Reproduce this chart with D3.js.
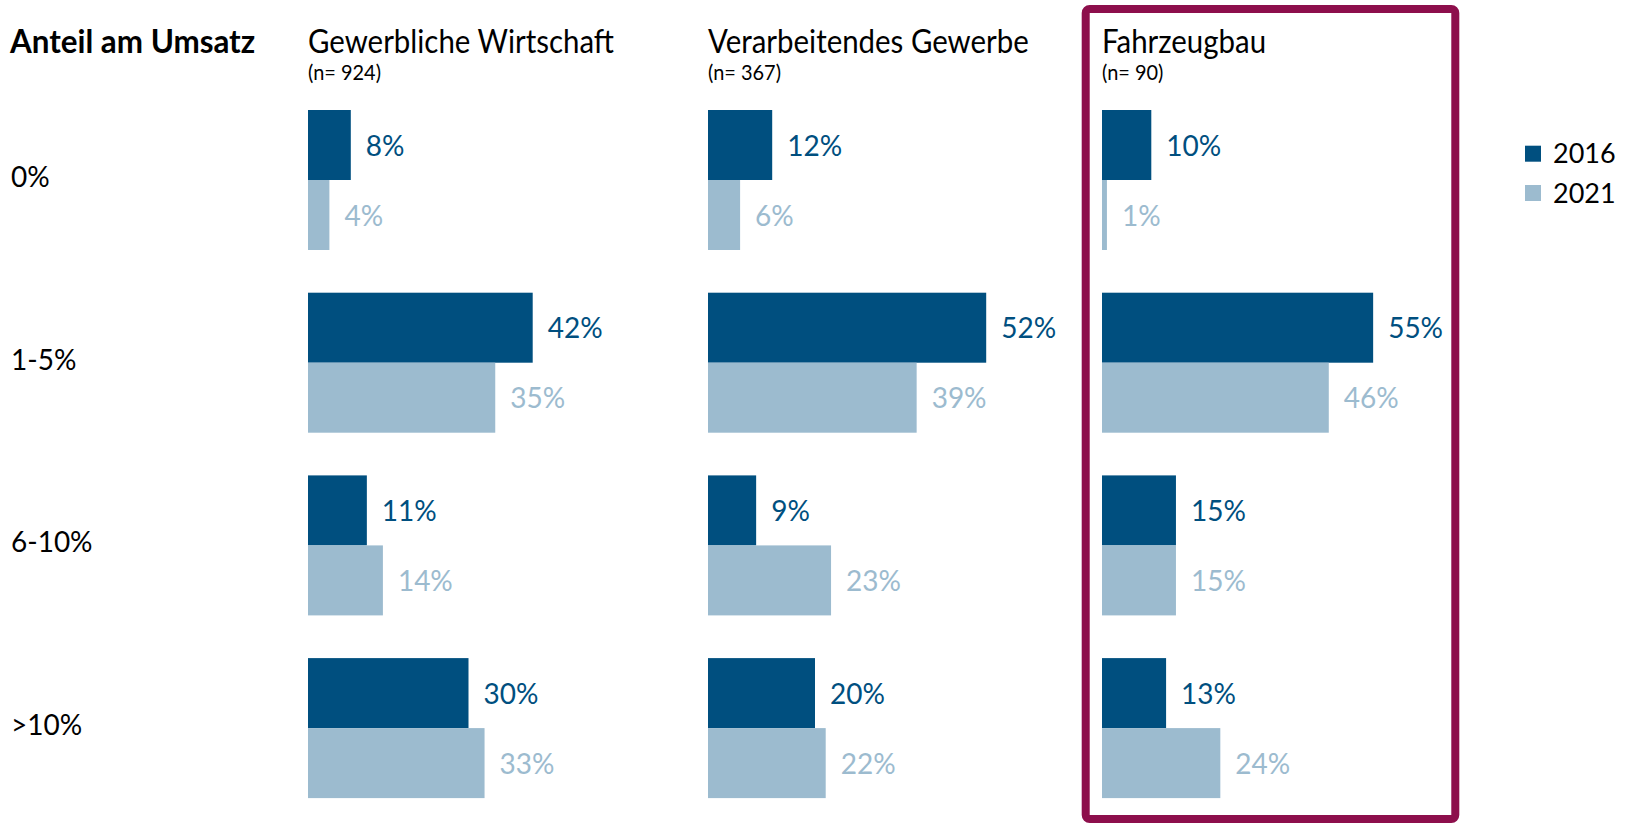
<!DOCTYPE html>
<html>
<head>
<meta charset="utf-8">
<script src="https://cdn.jsdelivr.net/npm/d3@7"></script>
<style>
  html, body { margin: 0; padding: 0; background: #fff; }
  svg { display: block; font-family: Lato, "Open Sans", sans-serif; }
</style>
</head>
<body>
<svg id="chart" width="1627" height="825"></svg>
<script>
// ---- data ----
const categories = ["0%", "1-5%", "6-10%", ">10%"];
const years = ["2016", "2021"];
const panels = ["Gewerbliche Wirtschaft", "Verarbeitendes Gewerbe", "Fahrzeugbau"];
const sampleSizes = ["(n= 924)", "(n= 367)", "(n= 90)"];
const values2016 = [
  [8, 42, 11, 30],
  [12, 52, 9, 20],
  [10, 55, 15, 13]
];
const values2021 = [
  [4, 35, 14, 33],
  [6, 39, 23, 22],
  [1, 46, 15, 24]
];
const rowTitle = "Anteil am Umsatz";

// ---- layout / style ----
const W = 1627, H = 825;
const colors = { "2016": "#004f7f", "2021": "#9cbbcf" };
const panelX = [308, 708, 1102];
const panelPxPer100 = [535, 535, 493];

const svg = d3.select("#chart");

const y = d3.scaleBand()
  .domain(categories)
  .range([110, 110 + 3 * 182.7 + 140])
  .paddingInner(42.7 / 182.7)
  .paddingOuter(0);

const ySub = d3.scaleBand().domain(years).range([0, y.bandwidth()]).padding(0);

// highlight box
svg.append("rect")
  .attr("x", 1085.7).attr("y", 9)
  .attr("width", 369.6).attr("height", 810)
  .attr("rx", 4).attr("ry", 4)
  .attr("fill", "none")
  .attr("stroke", "#8d0f4c")
  .attr("stroke-width", 8);

// row title
svg.append("text")
  .attr("transform", "translate(10,53) scale(0.98,1)")
  .attr("font-size", 32).attr("font-weight", 700)
  .attr("fill", "#000")
  .text(rowTitle);

// category labels
svg.append("g").selectAll("text")
  .data(categories)
  .join("text")
  .attr("x", 11)
  .attr("y", d => y(d) + 77)
  .attr("font-size", 28)
  .attr("fill", "#000")
  .text(d => d);

// panels
panels.forEach((name, p) => {
  const x = d3.scaleLinear().domain([0, 100]).range([0, panelPxPer100[p]]);
  const g = svg.append("g").attr("transform", `translate(${panelX[p]},0)`);

  g.append("text")
    .attr("transform", "translate(0,53) scale(0.92,1)")
    .attr("font-size", 32).attr("fill", "#000")
    .text(name);
  g.append("text")
    .attr("transform", "translate(0,80) scale(0.95,1)")
    .attr("font-size", 21).attr("fill", "#000")
    .text(sampleSizes[p]);

  const rows = categories.map((c, i) => ({
    cat: c,
    items: [
      { year: "2016", v: values2016[p][i] },
      { year: "2021", v: values2021[p][i] }
    ]
  }));

  const rg = g.selectAll("g.row")
    .data(rows)
    .join("g")
    .attr("class", "row")
    .attr("transform", d => `translate(0,${y(d.cat)})`);

  rg.selectAll("rect")
    .data(d => d.items)
    .join("rect")
    .attr("x", 0)
    .attr("y", d => ySub(d.year))
    .attr("width", d => x(d.v))
    .attr("height", ySub.bandwidth())
    .attr("fill", d => colors[d.year]);

  rg.selectAll("text")
    .data(d => d.items)
    .join("text")
    .attr("x", d => x(d.v) + 15)
    .attr("y", d => ySub(d.year) + ySub.bandwidth() / 2)
    .attr("dy", "0.38em")
    .attr("font-size", 28)
    .attr("fill", d => colors[d.year])
    .text(d => d.v + "%");
});

// legend
const lg = svg.append("g").attr("transform", "translate(1525,0)");
const ly = d3.scalePoint().domain(years).range([145.7, 185]);
lg.selectAll("rect")
  .data(years)
  .join("rect")
  .attr("x", 0).attr("y", d => ly(d))
  .attr("width", 16).attr("height", 16)
  .attr("fill", d => colors[d]);
lg.selectAll("text")
  .data(years)
  .join("text")
  .attr("x", 28).attr("y", d => ly(d) + 17.6)
  .attr("font-size", 27).attr("fill", "#000")
  .text(d => d);
</script>
</body>
</html>
